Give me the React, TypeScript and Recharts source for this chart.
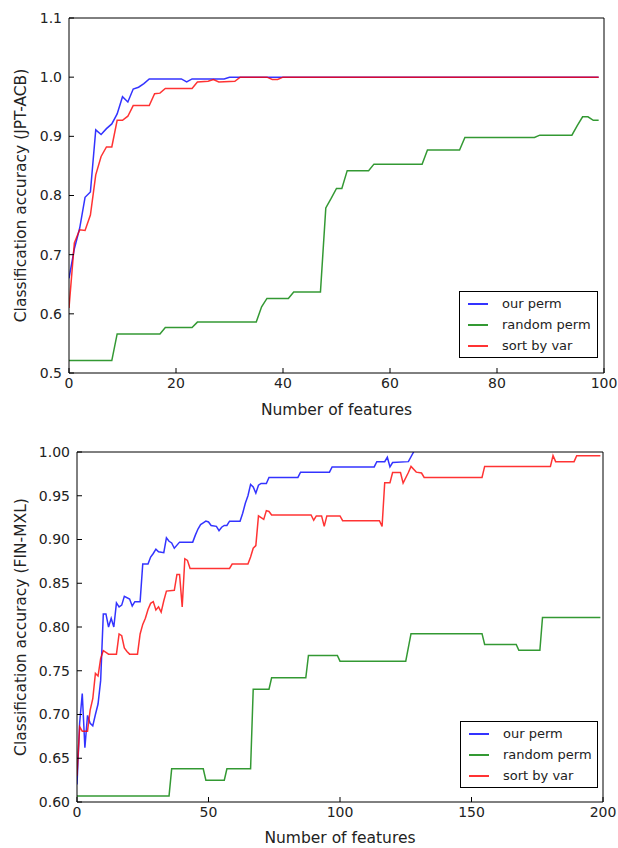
import React from 'react';
import { LineChart, Line, XAxis, YAxis, Legend } from 'recharts';

// ---------- Top chart (JPT-ACB) ----------
const topXTicks = [0, 20, 40, 60, 80, 100];
const topYTicks = [0.5, 0.6, 0.7, 0.8, 0.9, 1.0, 1.1];

const topOurPermX = [0, 1, 2, 3, 4, 5, 6, 7, 8, 9, 10, 11, 12, 13, 14, 15, 21, 22, 23, 29, 30, 99];
const topOurPermY = [0.66, 0.71, 0.745, 0.797, 0.806, 0.911, 0.903, 0.913, 0.921, 0.938, 0.967, 0.958, 0.98, 0.983, 0.989, 0.997, 0.997, 0.992, 0.997, 0.997, 1.0, 1.0];

const topRandomPermX = [0, 8, 9, 17, 18, 23, 24, 35, 36, 37, 41, 42, 47, 48, 49, 50, 51, 52, 56, 57, 66, 67, 73, 74, 87, 88, 94, 95, 96, 97, 98, 99];
const topRandomPermY = [0.521, 0.521, 0.566, 0.566, 0.577, 0.577, 0.586, 0.586, 0.612, 0.626, 0.626, 0.637, 0.637, 0.779, 0.795, 0.812, 0.812, 0.842, 0.842, 0.853, 0.853, 0.877, 0.877, 0.898, 0.898, 0.902, 0.902, 0.918, 0.933, 0.933, 0.927, 0.927];

const topSortVarX = [0, 1, 2, 3, 4, 5, 6, 7, 8, 9, 10, 11, 12, 15, 16, 17, 18, 23, 24, 26, 27, 28, 31, 32, 37, 38, 39, 40, 99];
const topSortVarY = [0.61, 0.72, 0.742, 0.741, 0.767, 0.835, 0.866, 0.882, 0.882, 0.927, 0.927, 0.934, 0.952, 0.952, 0.972, 0.973, 0.981, 0.981, 0.992, 0.993, 0.996, 0.992, 0.993, 1.0, 1.0, 0.996, 0.996, 1.0, 1.0];

// ---------- Bottom chart (FIN-MXL) ----------
const botXTicks = [0, 50, 100, 150, 200];
const botYTicks = [0.6, 0.65, 0.7, 0.75, 0.8, 0.85, 0.9, 0.95, 1.0];

// (after x=128 the "our perm" curve runs along the top frame at 1.0 and is hidden by it)
const botOurPermX = [0, 1, 2, 3, 4, 5, 6, 7, 8, 9, 10, 11, 12, 13, 14, 15, 16, 17, 18, 20, 21, 22, 24, 25, 27, 28, 29, 30, 31, 33, 34, 35, 36, 37, 39, 44, 45, 46, 47, 48, 49, 50, 51, 53, 54, 55, 56, 57, 58, 62, 63, 64, 65, 66, 67, 68, 69, 70, 72, 73, 84, 85, 96, 97, 113, 114, 117, 118, 119, 120, 126, 128];
const botOurPermY = [0.62, 0.69, 0.724, 0.662, 0.699, 0.69, 0.687, 0.7, 0.712, 0.739, 0.815, 0.815, 0.8, 0.81, 0.8, 0.8275, 0.823, 0.825, 0.835, 0.832, 0.824, 0.829, 0.829, 0.872, 0.872, 0.88, 0.884, 0.889, 0.886, 0.885, 0.902, 0.898, 0.896, 0.89, 0.897, 0.897, 0.905, 0.912, 0.917, 0.919, 0.921, 0.92, 0.916, 0.915, 0.91, 0.914, 0.916, 0.916, 0.921, 0.921, 0.93, 0.9415, 0.95, 0.963, 0.96, 0.953, 0.962, 0.964, 0.964, 0.971, 0.971, 0.977, 0.977, 0.983, 0.983, 0.989, 0.989, 0.994, 0.983, 0.988, 0.989, 1.0];

const botRandomPermX = [0, 35, 36, 48, 49, 56, 57, 66, 67, 73, 74, 87, 88, 99, 100, 125, 127, 154, 155, 167, 168, 176, 177, 199];
const botRandomPermY = [0.607, 0.607, 0.638, 0.638, 0.625, 0.625, 0.638, 0.638, 0.729, 0.729, 0.742, 0.742, 0.7675, 0.7675, 0.761, 0.761, 0.7924, 0.7924, 0.78, 0.78, 0.7733, 0.7733, 0.811, 0.811];

const botSortVarX = [0, 1, 2, 4, 5, 6, 7, 8, 9, 10, 11, 12, 15, 16, 17, 18, 19, 20, 23, 24, 25, 26, 27, 28, 29, 30, 31, 32, 33, 34, 37, 38, 39, 40, 41, 42, 43, 58, 59, 65, 66, 67, 68, 69, 71, 72, 73, 74, 89, 90, 91, 93, 94, 95, 100, 101, 115, 116, 117, 119, 120, 123, 124, 126, 127, 129, 131, 132, 154, 155, 180, 181, 182, 189, 190, 199];
const botSortVarY = [0.63, 0.686, 0.681, 0.681, 0.705, 0.718, 0.747, 0.744, 0.764, 0.773, 0.771, 0.769, 0.769, 0.792, 0.79, 0.776, 0.772, 0.769, 0.769, 0.792, 0.803, 0.81, 0.82, 0.827, 0.829, 0.8195, 0.823, 0.817, 0.83, 0.841, 0.842, 0.86, 0.86, 0.823, 0.878, 0.876, 0.867, 0.867, 0.872, 0.872, 0.88, 0.89, 0.893, 0.927, 0.923, 0.933, 0.932, 0.928, 0.928, 0.922, 0.927, 0.927, 0.915, 0.927, 0.927, 0.9215, 0.9215, 0.915, 0.965, 0.965, 0.9766, 0.9766, 0.9645, 0.9766, 0.9835, 0.977, 0.976, 0.971, 0.971, 0.9835, 0.9835, 0.9958, 0.989, 0.989, 0.9958, 0.9958];

const seriesNames = ['our perm', 'random perm', 'sort by var'];
const seriesColors = ['#0000ff', '#008000', '#ff0000'];

const FONT = '"DejaVu Sans", sans-serif';

const toPoints = (xs: number[], ys: number[]) => xs.map((x, i) => ({ x, y: ys[i] }));

const renderLegend = (props: any) => {
  const payload = (props.payload || [])
    .filter((e: any) => seriesNames.indexOf(e.value) >= 0)
    .sort((a: any, b: any) => seriesNames.indexOf(a.value) - seriesNames.indexOf(b.value));
  return (
    <div
      style={{
        border: '1.5px solid #000',
        background: '#fff',
        width: '100%',
        height: '100%',
        boxSizing: 'border-box',
        paddingTop: 1,
        fontFamily: FONT,
        fontSize: 13,
        color: '#222',
      }}
    >
      {payload.map((entry: any) => (
        <div key={entry.value} style={{ display: 'flex', alignItems: 'center', height: 21 }}>
          <span
            style={{
              display: 'inline-block',
              width: 20,
              height: 0,
              borderTop: `2px solid ${entry.color}`,
              opacity: 0.8,
              marginLeft: 8,
              marginRight: 14,
            }}
          />
          <span>{entry.value}</span>
        </div>
      ))}
    </div>
  );
};

type PanelProps = {
  series: { x: number; y: number }[][];
  xTicks: number[];
  yTicks: number[];
  xDomain: [number, number];
  yDomain: [number, number];
  yDigits: number;
  yLabel: string;
  margin: { top: number; right: number; bottom: number; left: number };
  yAxisWidth: number;
  xAxisHeight: number;
  xLabelOffset: number;
  legendPos: { left: number; top: number; width: number; height: number };
};

const axisStroke = { stroke: '#000', strokeWidth: 1 };
const tickStyle = { fill: '#222', fontSize: 14, fontFamily: FONT };

function Panel(p: PanelProps) {
  return (
    <LineChart width={618} height={424} margin={p.margin}>
      <XAxis
        xAxisId="b"
        dataKey="x"
        type="number"
        domain={p.xDomain}
        ticks={p.xTicks}
        allowDataOverflow
        height={p.xAxisHeight}
        tickSize={-5}
        tickMargin={10}
        axisLine={axisStroke}
        tickLine={axisStroke}
        tick={tickStyle}
        label={{
          value: 'Number of features',
          position: 'insideBottom',
          offset: p.xLabelOffset,
          style: { fontSize: 15.5, fontFamily: FONT, fill: '#222' },
        }}
      />
      <XAxis
        xAxisId="t"
        dataKey="x"
        orientation="top"
        type="number"
        domain={p.xDomain}
        ticks={p.xTicks}
        allowDataOverflow
        height={1}
        tickSize={-5}
        tick={false}
        axisLine={axisStroke}
        tickLine={axisStroke}
      />
      <YAxis
        yAxisId="l"
        type="number"
        domain={p.yDomain}
        ticks={p.yTicks}
        allowDataOverflow
        width={p.yAxisWidth}
        tickSize={-5}
        tickMargin={12}
        axisLine={axisStroke}
        tickLine={axisStroke}
        tick={tickStyle}
        tickFormatter={(v: number) => v.toFixed(p.yDigits)}
        label={{
          value: p.yLabel,
          angle: -90,
          position: 'insideLeft',
          offset: 20,
          style: { textAnchor: 'middle', fontSize: 15.5, fontFamily: FONT, fill: '#222' },
        }}
      />
      <YAxis
        yAxisId="r"
        orientation="right"
        type="number"
        domain={p.yDomain}
        ticks={p.yTicks}
        allowDataOverflow
        width={1}
        tickSize={-5}
        tick={false}
        axisLine={axisStroke}
        tickLine={axisStroke}
      />
      {/* invisible carrier so the top / right frame axes get rendered */}
      <Line
        xAxisId="t"
        yAxisId="r"
        data={p.series[1]}
        dataKey="y"
        name="frame"
        stroke="none"
        strokeWidth={0}
        dot={false}
        activeDot={false}
        legendType="none"
        isAnimationActive={false}
      />
      {p.series.map((data, i) => (
        <Line
          key={seriesNames[i]}
          xAxisId="b"
          yAxisId="l"
          data={data}
          dataKey="y"
          name={seriesNames[i]}
          type="linear"
          stroke={seriesColors[i]}
          strokeOpacity={0.8}
          strokeWidth={1.5}
          dot={false}
          activeDot={false}
          isAnimationActive={false}
        />
      ))}
      <Legend
        layout="horizontal"
        align="center"
        verticalAlign="middle"
        content={renderLegend}
        wrapperStyle={{ position: 'absolute', ...p.legendPos }}
      />
    </LineChart>
  );
}

export default function App() {
  const topSeries = [
    toPoints(topOurPermX, topOurPermY),
    toPoints(topRandomPermX, topRandomPermY),
    toPoints(topSortVarX, topSortVarY),
  ];
  const botSeries = [
    toPoints(botOurPermX, botOurPermY),
    toPoints(botRandomPermX, botRandomPermY),
    toPoints(botSortVarX, botSortVarY),
  ];
  return (
    <div style={{ position: 'absolute', left: 0, top: 0, width: 618, height: 848, background: '#fff' }}>
      <div style={{ position: 'absolute', left: 0, top: 0 }}>
        <Panel
          series={topSeries}
          xTicks={topXTicks}
          yTicks={topYTicks}
          xDomain={[0, 100]}
          yDomain={[0.5, 1.1]}
          yDigits={1}
          yLabel="Classification accuracy (JPT-ACB)"
          margin={{ top: 17, right: 13, bottom: 0, left: 0 }}
          yAxisWidth={69}
          xAxisHeight={51}
          xLabelOffset={9}
          legendPos={{ left: 459, top: 291, width: 139, height: 67 }}
        />
      </div>
      <div style={{ position: 'absolute', left: 0, top: 424 }}>
        <Panel
          series={botSeries}
          xTicks={botXTicks}
          yTicks={botYTicks}
          xDomain={[0, 200]}
          yDomain={[0.6, 1.0]}
          yDigits={2}
          yLabel="Classification accuracy (FIN-MXL)"
          margin={{ top: 27, right: 14, bottom: 0, left: 0 }}
          yAxisWidth={77}
          xAxisHeight={46}
          xLabelOffset={5}
          legendPos={{ left: 460, top: 297, width: 138, height: 67 }}
        />
      </div>
    </div>
  );
}
